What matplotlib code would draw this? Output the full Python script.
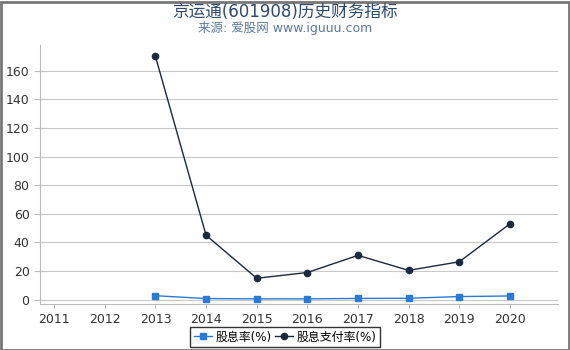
import matplotlib
matplotlib.use("Agg")
import matplotlib.pyplot as plt
from matplotlib.patches import Rectangle

plt.rcParams['font.family'] = ['DejaVu Sans', 'Noto Sans CJK SC']

years = [2011, 2012, 2013, 2014, 2015, 2016, 2017, 2018, 2019, 2020]
yield_years = [2013, 2014, 2015, 2016, 2017, 2018, 2019, 2020]
dividend_yield = [2.8, 0.8, 0.6, 0.6, 0.9, 1.0, 2.2, 2.6]
payout_ratio = [170, 45, 15, 19, 31, 20.5, 26.5, 53]
yticks = [0, 20, 40, 60, 80, 100, 120, 140, 160]

fig = plt.figure(figsize=(5.7, 3.5), dpi=100)
ax = fig.add_axes([40/570, 1-304/350, (558-40)/570, (304-45)/350])

ax.plot(yield_years, dividend_yield, color='#2b7bd6', lw=1, marker='s', ms=4.5,
        label='股息率(%)', zorder=3)
ax.plot(yield_years, payout_ratio, color='#1a2a40', lw=1, marker='o', ms=4.5,
        label='股息支付率(%)', zorder=4)

ax.set_xlim(2010.72, 2020.95)
ax.set_ylim(-3, 178)
ax.set_xticks(years)
ax.set_xticklabels([str(y) for y in years])
ax.set_yticks(yticks)
ax.grid(axis='y', color='#c8c8c8', lw=0.8)
ax.set_axisbelow(True)
for s in ['top', 'right']:
    ax.spines[s].set_visible(False)
ax.spines['left'].set_color('#bbbbbb')
ax.spines['bottom'].set_color('#bbbbbb')
ax.tick_params(axis='both', colors='#bbbbbb', labelcolor='#333333', labelsize=9, length=4)
ax.tick_params(axis='x', length=3)

fig.text(0.5, 1-17/350, '京运通(601908)历史财务指标', ha='center', va='baseline',
         fontsize=12, color='#2c4a6e')
fig.text(0.5, 1-32/350, '来源: 爱股网 www.iguuu.com', ha='center', va='baseline',
         fontsize=9, color='#5a7aa0')

leg = fig.legend(loc='center', bbox_to_anchor=(285/570, 1-337/350), ncol=2,
                 fontsize=8.6, frameon=True, fancybox=False, handlelength=1.5,
                 handletextpad=0.3, columnspacing=0.3, borderpad=0.3)
leg.get_frame().set_edgecolor('black')
leg.get_frame().set_linewidth(1)

fig.patches.append(Rectangle((0.5/570, 0.5/350), 568/570, 348/350, transform=fig.transFigure,
                             fill=False, edgecolor='#777777', lw=2))

fig.savefig('out.png', dpi=100)
